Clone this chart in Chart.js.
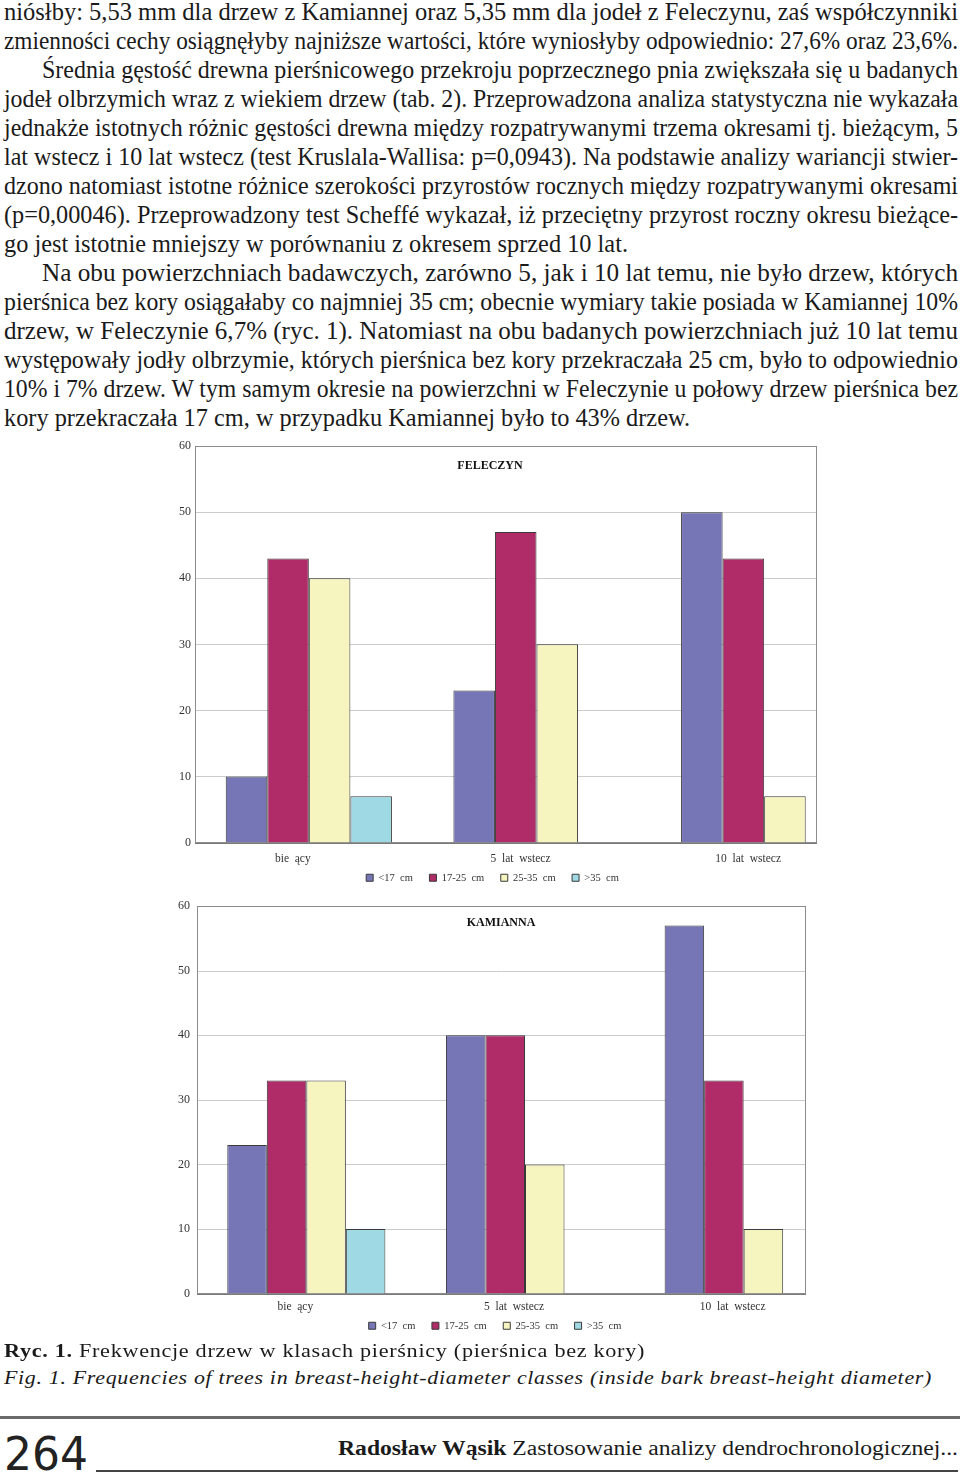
<!DOCTYPE html>
<html lang="pl">
<head>
<meta charset="utf-8">
<title>Ryc. 1. Frekwencje drzew w klasach pierśnicy</title>
<script src="https://cdn.jsdelivr.net/npm/chart.js@4.4.1/dist/chart.umd.min.js"></script>
<style>
  html, body { margin: 0; padding: 0; background: #fff; }
  #page { position: relative; width: 960px; height: 1475px; overflow: hidden;
          font-family: 'Liberation Serif', 'Times New Roman', serif; color: #1a1a1a; }
  .t { position: absolute; white-space: nowrap; line-height: 1; transform-origin: 0 0; }
  .body { font-size: 25px; }
  .cap { font-size: 19.5px; letter-spacing: 0.6px; }
  canvas { position: absolute; }
</style>
</head>
<body>
<div id="page">
  <div class="t body" style="top:-1px;left:4px" data-w="954">niósłby: 5,53 mm dla drzew z Kamiannej oraz 5,35 mm dla jodeł z Feleczynu, zaś współczynniki</div>
  <div class="t body" style="top:28px;left:4px" data-w="954">zmienności cechy osiągnęłyby najniższe wartości, które wyniosłyby odpowiednio: 27,6% oraz 23,6%.</div>
  <div class="t body" style="top:57.1px;left:42px" data-w="916">Średnia gęstość drewna pierśnicowego przekroju poprzecznego pnia zwiększała się u badanych</div>
  <div class="t body" style="top:86.1px;left:4px" data-w="954">jodeł olbrzymich wraz z wiekiem drzew (tab. 2). Przeprowadzona analiza statystyczna nie wykazała</div>
  <div class="t body" style="top:115.1px;left:4px" data-w="954">jednakże istotnych różnic gęstości drewna między rozpatrywanymi trzema okresami tj. bieżącym, 5</div>
  <div class="t body" style="top:144.2px;left:4px" data-w="954">lat wstecz i 10 lat wstecz (test Kruslala-Wallisa: p=0,0943). Na podstawie analizy wariancji stwier-</div>
  <div class="t body" style="top:173.2px;left:4px" data-w="954">dzono natomiast istotne różnice szerokości przyrostów rocznych między rozpatrywanymi okresami</div>
  <div class="t body" style="top:202.2px;left:4px" data-w="954">(p=0,00046). Przeprowadzony test Scheffé wykazał, iż przeciętny przyrost roczny okresu bieżące-</div>
  <div class="t body" style="top:231.2px;left:4px" data-w="624">go jest istotnie mniejszy w porównaniu z okresem sprzed 10 lat.</div>
  <div class="t body" style="top:260.3px;left:42px" data-w="916">Na obu powierzchniach badawczych, zarówno 5, jak i 10 lat temu, nie było drzew, których</div>
  <div class="t body" style="top:289.3px;left:4px" data-w="954">pierśnica bez kory osiągałaby co najmniej 35 cm; obecnie wymiary takie posiada w Kamiannej 10%</div>
  <div class="t body" style="top:318.3px;left:4px" data-w="954">drzew, w Feleczynie 6,7% (ryc. 1). Natomiast na obu badanych powierzchniach już 10 lat temu</div>
  <div class="t body" style="top:347.3px;left:4px" data-w="954">występowały jodły olbrzymie, których pierśnica bez kory przekraczała 25 cm, było to odpowiednio</div>
  <div class="t body" style="top:376.4px;left:4px" data-w="954">10% i 7% drzew. W tym samym okresie na powierzchni w Feleczynie u połowy drzew pierśnica bez</div>
  <div class="t body" style="top:405.4px;left:4px" data-w="686">kory przekraczała 17 cm, w przypadku Kamiannej było to 43% drzew.</div>

  <canvas id="feleczynChart" width="771" height="458" style="left:107px;top:435px"></canvas>
  <canvas id="kamiannaChart" width="716" height="449" style="left:137px;top:892px"></canvas>

  <div class="t cap" style="top:1340.7px;left:4px" data-w="641"><b>Ryc. 1.</b> Frekwencje drzew w klasach pierśnicy (pierśnica bez kory)</div>
  <div class="t cap" style="top:1367.7px;left:4px;font-style:italic" data-w="928">Fig. 1. Frequencies of trees in breast-height-diameter classes (inside bark breast-height diameter)</div>

  <div style="position:absolute;top:1416px;left:0;width:960px;height:3px;background:#6b6b6b"></div>
  <div class="t" style="top:1431px;left:4px;font-family:'Liberation Sans Narrow','DejaVu Sans Condensed',sans-serif;font-size:46px;color:#222" data-w="84">264</div>
  <div style="position:absolute;top:1470px;left:96px;width:862px;height:1.5px;background:#444"></div>
  <div class="t" style="top:1438px;left:338px;font-size:20px" data-w="620"><b>Radosław Wąsik</b> Zastosowanie analizy dendrochronologicznej...</div>
</div>

<script>
// categories and series (% of trees)
const categories = ['bie  ący', '5  lat  wstecz', '10  lat  wstecz'];
const classNames = ['<17  cm', '17-25  cm', '25-35  cm', '>35  cm'];

const feleczynLt17 = [10, 23, 50];
const feleczyn17to25 = [43, 47, 43];
const feleczyn25to35 = [40, 30, 7];
const feleczynGt35 = [7, null, null];

const kamiannaLt17 = [23, 40, 57];
const kamianna17to25 = [33, 40, 33];
const kamianna25to35 = [33, 20, 10];
const kamiannaGt35 = [10, null, null];

const yMax = 60;
const yStep = 10;

const classColors = ['#7676b6', '#b02c68', '#f6f4bf', '#9fd9e3'];

// squeeze / stretch each text line to its width on the page
function fitLines() {
    document.querySelectorAll('[data-w]').forEach(el => {
        const natural = el.getBoundingClientRect().width;
        const target = parseFloat(el.dataset.w);
        el.style.transform = 'scaleX(' + (target / natural) + ')';
    });
}
fitLines();

// Excel-like plot box: gridlines, frame, baseline and the title inside it.
// The box is narrower than the category axis (as in the original figure).
const plotFrame = {
    id: 'plotFrame',
    beforeDatasetsDraw(chart, args, opts) {
        const {ctx, chartArea: a, scales: {y}} = chart;
        const right = opts.frameRight;
        ctx.save();
        ctx.lineWidth = 1;
        ctx.strokeStyle = '#cccccc';
        y.ticks.forEach(t => {
            const py = Math.round(y.getPixelForValue(t.value)) + 0.5;
            ctx.beginPath();
            ctx.moveTo(a.left, py);
            ctx.lineTo(right, py);
            ctx.stroke();
        });
        ctx.strokeStyle = '#8c8c8c';
        ctx.strokeRect(Math.round(a.left) + 0.5, Math.round(a.top) + 0.5,
            right - Math.round(a.left) - 1, Math.round(a.bottom - a.top));
        ctx.font = 'bold 12px "Liberation Serif"';
        ctx.fillStyle = '#111';
        ctx.textAlign = 'center';
        ctx.textBaseline = 'middle';
        ctx.fillText(opts.title, opts.titleX, opts.titleY);
        ctx.restore();
    },
    afterDatasetsDraw(chart, args, opts) {
        const {ctx, chartArea: a} = chart;
        const py = Math.round(a.bottom) + 0.5;
        ctx.save();
        ctx.strokeStyle = '#7a7a7a';
        ctx.lineWidth = 1;
        ctx.beginPath();
        ctx.moveTo(a.left, py);
        ctx.lineTo(opts.frameRight, py);
        ctx.stroke();
        ctx.restore();
    }
};

// wider gaps between legend entries, as in the original
function spacedLegendLabels(chart) {
    const items = Chart.defaults.plugins.legend.labels.generateLabels(chart);
    return items.map((item, i) =>
        Object.assign(item, { text: i < items.length - 1 ? item.text + '\u2003' : item.text }));
}

function makeChart(canvasId, series, cfg) {
    const ctx = document.getElementById(canvasId).getContext('2d');

    return new Chart(ctx, {
        type: 'bar',
        data: {
            labels: categories,
            datasets: series.map((values, i) => ({
                label: classNames[i],
                data: values,
                backgroundColor: classColors[i],
                borderColor: '#3a3a3a',
                borderWidth: 1,
                barPercentage: 1,
                categoryPercentage: cfg.catPct
            }))
        },
        options: {
            responsive: false,
            animation: false,
            devicePixelRatio: 1,
            layout: {
                padding: cfg.padding
            },
            plugins: {
                legend: {
                    position: 'bottom',
                    labels: {
                        boxWidth: 7,
                        boxHeight: 7,
                        padding: 6,
                        color: '#333',
                        font: { family: 'Liberation Serif', size: 10.5 },
                        generateLabels: spacedLegendLabels
                    }
                },
                tooltip: { enabled: false },
                plotFrame: {
                    title: cfg.title,
                    titleX: cfg.titleX,
                    titleY: cfg.titleY,
                    frameRight: cfg.frameRight
                }
            },
            scales: {
                y: {
                    min: 0,
                    max: yMax,
                    ticks: {
                        stepSize: yStep,
                        padding: cfg.yPad,
                        color: '#333',
                        font: { family: 'Liberation Serif', size: 12 }
                    },
                    grid: { display: false, drawTicks: false },
                    border: { display: false },
                    afterFit: scale => { scale.width = cfg.yWidth; }
                },
                x: {
                    ticks: {
                        padding: cfg.xPad,
                        labelOffset: cfg.labelOffset,
                        color: '#333',
                        font: { family: 'Liberation Serif', size: 11.5 }
                    },
                    grid: { display: false, drawTicks: false },
                    border: { display: false },
                    afterFit: scale => { scale.height = cfg.xHeight; }
                }
            }
        },
        plugins: [plotFrame]
    });
}

makeChart('feleczynChart',
    [feleczynLt17, feleczyn17to25, feleczyn25to35, feleczynGt35],
    {
        title: 'FELECZYN', titleX: 383, titleY: 31, frameRight: 710,
        padding: { top: 10, right: 0, left: 0, bottom: 0 },
        yWidth: 88, yPad: 4, xHeight: 24, xPad: 10, labelOffset: -16, catPct: 0.73
    });

makeChart('kamiannaChart',
    [kamiannaLt17, kamianna17to25, kamianna25to35, kamiannaGt35],
    {
        title: 'KAMIANNA', titleX: 364, titleY: 31, frameRight: 669,
        padding: { top: 8, right: 0, left: 0, bottom: 0 },
        yWidth: 60, yPad: 7, xHeight: 21, xPad: 7, labelOffset: -11, catPct: 0.723
    });
</script>
</body>
</html>
